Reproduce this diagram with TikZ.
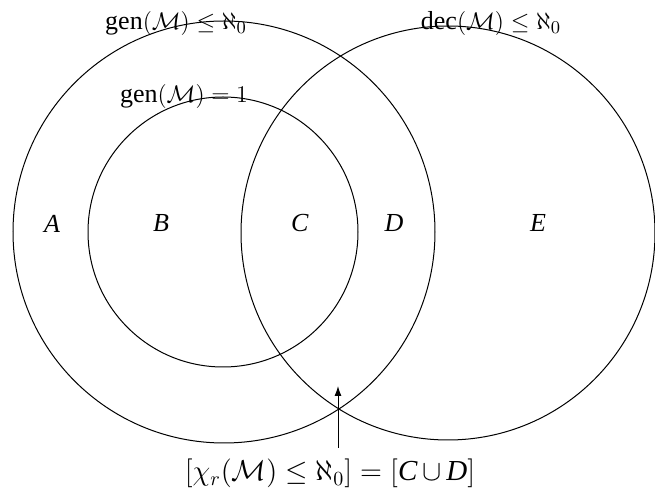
\documentclass[tikz,border=0pt]{standalone}
\usepackage{fontspec}
\setmainfont{Liberation Serif}
\usetikzlibrary{arrows.meta}
\begin{document}
\begin{tikzpicture}[x=0.5pt,y=-0.5pt,
  ring/.style={draw, circle, inner sep=0pt, line width=0.5pt},
  lbl/.style={inner sep=0pt, anchor=base, font=\fontsize{13}{15}\selectfont},
  conn/.style={line width=0.5pt, -{Latex[length=5pt,width=3.5pt]}}]
\useasboundingbox (0,0) rectangle (655,491);
\node[ring, minimum size=211pt] (gen) at (224,232) {};
\node[ring, minimum size=135pt] (one) at (223,232) {};
\node[ring, minimum size=207pt] (dec) at (448,233) {};
\node[lbl] (tgen) at (176,30) {gen$(\mathcal{M})\le\aleph_0$};
\node[lbl] (tdec) at (491,30) {dec$(\mathcal{M})\le\aleph_0$};
\node[lbl] (tone) at (184,103) {gen$(\mathcal{M})=1$};
\node[lbl] (A) at (52,233) {\textit{A}};
\node[lbl] (B) at (161,232) {\textit{B}};
\node[lbl] (C) at (300,232) {\textit{C}};
\node[lbl] (D) at (394,232) {\textit{D}};
\node[lbl] (E) at (538,232) {\textit{E}};
\node[lbl, font=\fontsize{14.5}{16}\selectfont] (bot) at (330,481) {$[\chi_r(\mathcal{M})\le\aleph_0]=[$\textit{C}$\,\cup\,$\textit{D}$]$};
\coordinate (tip) at (338,386);
\coordinate (tail) at (338,448);
\draw[conn] (tail) -- (tip);
\end{tikzpicture}
\end{document}
